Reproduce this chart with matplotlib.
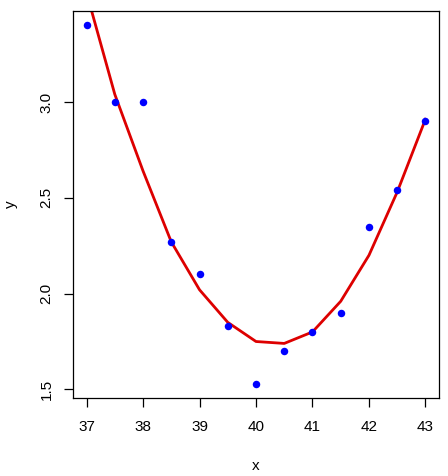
import matplotlib
matplotlib.use("Agg")
import matplotlib.pyplot as plt

x = [37, 37.5, 38, 38.5, 39, 39.5, 40, 40.5, 41, 41.5, 42, 42.5, 43]
y = [3.40, 3.00, 3.00, 2.27, 2.10, 1.83, 1.53, 1.70, 1.80, 1.90, 2.35, 2.54, 2.90]
fit = [3.57, 3.04, 2.64, 2.27, 2.02, 1.85, 1.75, 1.74, 1.80, 1.96, 2.20, 2.53, 2.91]
xticks = [37, 38, 39, 40, 41, 42, 43]
yticks = [1.5, 2.0, 2.5, 3.0]

plt.rcParams['font.family'] = ['Liberation Sans', 'DejaVu Sans']
fig = plt.figure(figsize=(4.48, 4.76), dpi=100)
ax = fig.add_axes([73/448, 1-398/476, (439-73)/448, (398-11)/476])

ax.plot(x, fit, color='#dd0000', lw=2, zorder=2)
ax.plot(x, y, 'o', color='#0000ff', ms=5.4, mec='none', zorder=3)

xr = max(x) - min(x)
yr = max(y) - min(y)
ax.set_xlim(min(x) - 0.04*xr, max(x) + 0.04*xr)
ax.set_ylim(min(y) - 0.04*yr, max(y) + 0.04*yr)

ax.set_xticks(xticks)
ax.set_xticklabels([str(t) for t in xticks])
ax.set_yticks(yticks)
ax.set_yticklabels([f"{t:.1f}" for t in yticks], rotation=90, va='center')

ax.tick_params(axis='both', length=6.5, width=0.9, labelsize=11, color='black')
ax.tick_params(axis='x', pad=9)
ax.tick_params(axis='y', pad=7.5)
for s in ax.spines.values():
    s.set_linewidth(0.9)

ax.set_xlabel('x', fontsize=11, labelpad=18)
ax.set_ylabel('y', fontsize=11, labelpad=15.5)

fig.savefig('out.png', dpi=100)
